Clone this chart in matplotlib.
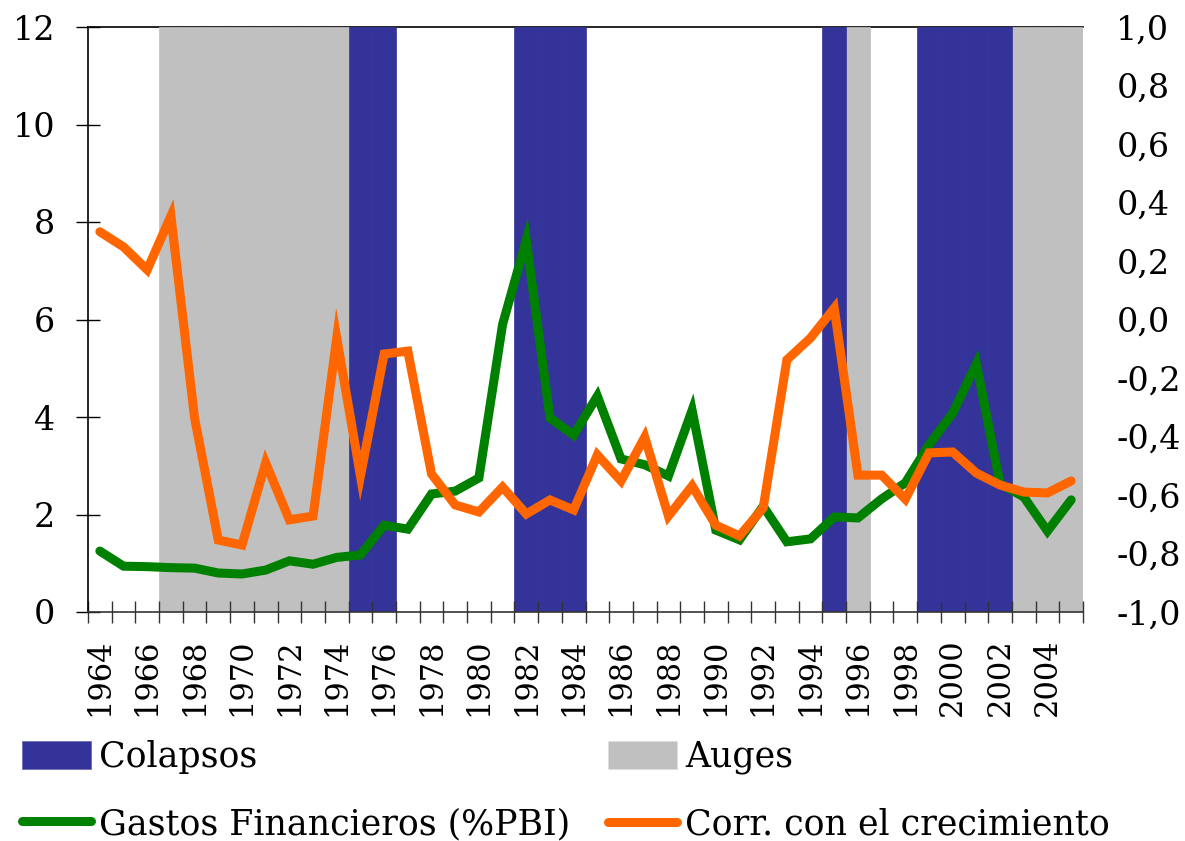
import matplotlib
matplotlib.use("Agg")
import matplotlib.pyplot as plt
from matplotlib.patches import Patch
from matplotlib.lines import Line2D
from matplotlib.ticker import FixedLocator

years = list(range(1964, 2006))
gastos = [1.25, 0.94, 0.93, 0.91, 0.90, 0.80, 0.78, 0.86, 1.05, 0.98, 1.12, 1.17,
          1.78, 1.70, 2.42, 2.48, 2.75, 5.90, 7.63, 3.98, 3.63, 4.43, 3.14, 3.02,
          2.79, 4.14, 1.68, 1.48, 2.17, 1.44, 1.50, 1.95, 1.93, 2.32, 2.65, 3.43,
          4.08, 5.09, 2.63, 2.36, 1.66, 2.30]
corr = [0.30, 0.248, 0.17, 0.354, -0.337, -0.754, -0.771, -0.49, -0.685, -0.672,
        -0.063, -0.535, -0.118, -0.108, -0.528, -0.634, -0.658, -0.573, -0.665,
        -0.617, -0.651, -0.463, -0.552, -0.402, -0.672, -0.569, -0.703, -0.74,
        -0.644, -0.138, -0.063, 0.039, -0.532, -0.532, -0.614, -0.456, -0.453,
        -0.525, -0.566, -0.59, -0.593, -0.552]
colapsos_years = [1975, 1976, 1982, 1983, 1984, 1995, 1999, 2000, 2001, 2002]
auges_years = [1967, 1968, 1969, 1970, 1971, 1972, 1973, 1974, 1996, 2003, 2004, 2005]
left_ticks = [0, 2, 4, 6, 8, 10, 12]
right_ticks = [-1.0, -0.8, -0.6, -0.4, -0.2, 0.0, 0.2, 0.4, 0.6, 0.8, 1.0]

BLUE = "#333399"
GRAY = "#C0C0C0"
GREEN = "#008000"
ORANGE = "#FF6600"

plt.rcParams['font.family'] = ['DejaVu Serif']
FS = 24

fig = plt.figure(figsize=(11.85, 8.41), dpi=100)
ax = fig.add_axes([88/1185, 1 - 612/841, (1083-88)/1185, (612-27)/841])
ax2 = ax.twinx()

idx = {y: i for i, y in enumerate(years)}
ax.bar([idx[y] for y in auges_years], [12]*len(auges_years), width=1.0,
       color=GRAY, edgecolor=GRAY, linewidth=0.5, zorder=1)
ax.bar([idx[y] for y in colapsos_years], [12]*len(colapsos_years), width=1.0,
       color=BLUE, edgecolor=BLUE, linewidth=0.5, zorder=1)
ax.plot(range(len(years)), gastos, color=GREEN, lw=6.5, solid_capstyle='round',
        solid_joinstyle='miter', zorder=3)
ax2.plot(range(len(years)), corr, color=ORANGE, lw=6.5, solid_capstyle='round',
         solid_joinstyle='miter', zorder=3)

ax.set_xlim(-0.5, len(years) - 0.5)
ax.set_ylim(0, 12)
ax2.set_ylim(-1, 1)

ax.set_yticks(left_ticks)
ax.set_yticklabels([str(t) for t in left_ticks], fontsize=FS)
ax.tick_params(axis='y', direction='inout', length=17, width=1, pad=15)

ax2.set_yticks(right_ticks)
ax2.set_yticklabels([f"{t:.1f}".replace('.', ',') for t in right_ticks], fontsize=FS)
ax2.tick_params(axis='y', length=0, pad=24)

major = list(range(0, len(years), 2))
ax.set_xticks(major)
ax.set_xticklabels([str(years[i]) for i in major], rotation=90, fontsize=22)
ax.tick_params(axis='x', which='major', length=0, pad=19)
ax.xaxis.set_minor_locator(FixedLocator([i - 0.5 for i in range(len(years) + 1)]))
ax.tick_params(axis='x', which='minor', direction='inout', length=16, width=1, color='#333333')

for a in (ax, ax2):
    a.spines['right'].set_visible(False)
ax2.spines['top'].set_visible(False)
ax2.spines['left'].set_visible(False)
ax2.spines['bottom'].set_visible(False)
ax.spines['top'].set_zorder(0.5)
ax.spines['top'].set_linewidth(1.2)
ax.spines['left'].set_linewidth(1.2)
ax.spines['bottom'].set_linewidth(1.2)
ax.spines['bottom'].set_color('#333333')

h1 = [Patch(facecolor=BLUE, edgecolor='#6666aa', lw=0.5),
      Line2D([0], [0], color=GREEN, lw=6.5, solid_capstyle='round')]
l1 = ["Colapsos", "Gastos Financieros (%PBI)"]
h2 = [Patch(facecolor=GRAY, edgecolor='#dddddd', lw=0.5),
      Line2D([0], [0], color=ORANGE, lw=6.5, solid_capstyle='round')]
l2 = ["Auges", "Corr. con el crecimiento"]
kw = dict(frameon=False, fontsize=25, handlelength=2.0, handleheight=0.85,
          handletextpad=0.22, labelspacing=0.95, borderaxespad=0, borderpad=0)
fig.legend(h1, l1, loc='upper left', bbox_to_anchor=(22/1185, 1 - 740/841), **kw)
fig.legend(h2, l2, loc='upper left', bbox_to_anchor=(608/1185, 1 - 740/841), **kw)

fig.savefig("out.png", dpi=100)
